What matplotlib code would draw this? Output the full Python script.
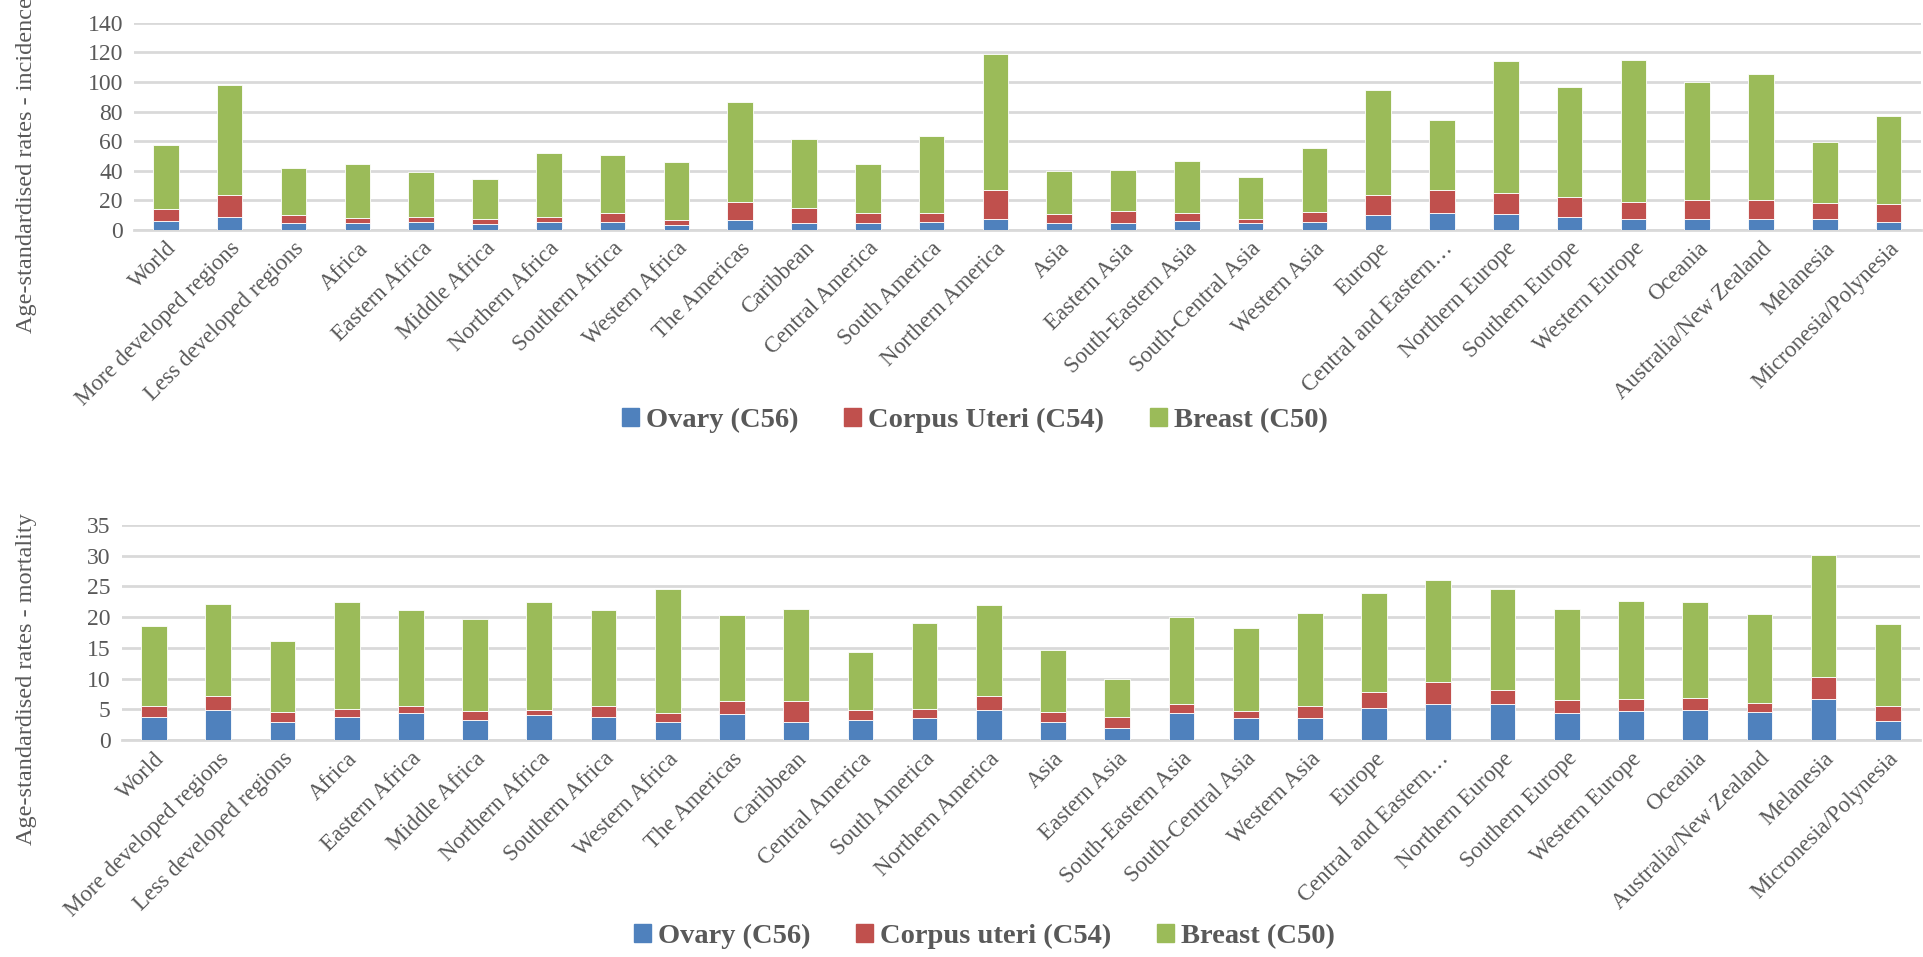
import numpy as np
import matplotlib
matplotlib.use('Agg')
import matplotlib.pyplot as plt
from matplotlib.patches import Patch

# Regions shown on both panels
regions = ['World', 'More developed regions', 'Less developed regions', 'Africa',
           'Eastern Africa', 'Middle Africa', 'Northern Africa', 'Southern Africa',
           'Western Africa', 'The Americas', 'Caribbean', 'Central America',
           'South America', 'Northern America', 'Asia', 'Eastern Asia',
           'South-Eastern Asia', 'South-Central Asia', 'Western Asia', 'Europe',
           'Central and Eastern\u2026', 'Northern Europe', 'Southern Europe',
           'Western Europe', 'Oceania', 'Australia/New Zealand', 'Melanesia',
           'Micronesia/Polynesia']

# Incidence (age-standardised rates)
ovary_inc = [5.9, 8.9, 4.5, 4.5, 5.0, 3.6, 5.5, 5.0, 3.2, 6.4, 4.5, 4.5, 5.5, 7.5,
             4.5, 4.5, 6.1, 4.5, 5.0, 10.0, 11.4, 10.5, 8.6, 7.3, 7.5, 7.3, 7.5, 5.0]
corpus_inc = [8.0, 14.7, 5.7, 3.2, 3.4, 3.4, 2.9, 6.4, 3.4, 12.2, 10.3, 6.6, 5.6, 19.5,
              6.2, 8.0, 5.0, 2.5, 7.3, 13.6, 15.4, 14.3, 13.4, 11.3, 12.5, 12.5, 10.5, 12.3]
breast_inc = [43.6, 74.2, 31.6, 36.8, 30.7, 27.4, 43.7, 39.4, 39.0, 67.9, 46.8, 33.4, 52.3, 91.7,
              29.3, 27.9, 35.4, 28.7, 43.2, 71.2, 47.8, 89.6, 74.6, 96.5, 79.8, 85.8, 41.3, 60.0]

# Mortality (age-standardised rates)
ovary_mort = [3.8, 4.9, 3.0, 3.8, 4.4, 3.3, 4.1, 3.8, 3.0, 4.3, 3.0, 3.3, 3.6, 4.9,
              3.0, 2.0, 4.4, 3.6, 3.6, 5.2, 5.9, 5.8, 4.4, 4.7, 4.8, 4.5, 6.6, 3.1]
corpus_mort = [1.7, 2.3, 1.5, 1.2, 1.2, 1.4, 0.8, 1.7, 1.4, 2.0, 3.3, 1.6, 1.4, 2.3,
               1.5, 1.8, 1.4, 1.1, 1.9, 2.6, 3.5, 2.3, 2.1, 1.9, 2.0, 1.5, 3.6, 2.5]
breast_mort = [13.0, 15.0, 11.6, 17.4, 15.6, 15.0, 17.5, 15.6, 20.1, 14.0, 15.1, 9.5, 14.1, 14.8,
               10.1, 6.2, 14.2, 13.5, 15.2, 16.2, 16.6, 16.4, 14.9, 16.1, 15.6, 14.5, 19.9, 13.3]

blue, red, green = '#4F81BD', '#C0504D', '#9BBB59'
grey = '#595959'
serif = ['Liberation Serif', 'DejaVu Serif']

fig = plt.figure(figsize=(19.23, 9.57), dpi=100)


def stacked(ax, ov, cu, br, ymax, step):
    x = np.arange(len(regions))
    ov, cu, br = np.array(ov), np.array(cu), np.array(br)
    kw = dict(width=0.4, edgecolor='white', linewidth=0.6, zorder=3)
    ax.bar(x, ov, color=blue, **kw)
    ax.bar(x, cu, bottom=ov, color=red, **kw)
    ax.bar(x, br, bottom=ov + cu, color=green, **kw)
    ax.set_xlim(-0.5, len(regions) - 0.5)
    ax.set_ylim(0, ymax)
    ax.set_yticks(np.arange(0, ymax + 1, step))
    ax.yaxis.grid(True, color='#D9D9D9', linewidth=2)
    ax.set_axisbelow(True)
    for s in ['top', 'right', 'left']:
        ax.spines[s].set_visible(False)
    ax.spines['bottom'].set_color('#D9D9D9')
    ax.spines['bottom'].set_linewidth(2)
    ax.tick_params(axis='y', length=0, colors=grey, labelsize=17, pad=8)
    ax.tick_params(axis='x', length=0, colors=grey, pad=6)
    ax.set_xticks(x)
    ax.set_xticklabels(regions, rotation=45, ha='right', rotation_mode='anchor',
                       family=serif, fontsize=16.5, color=grey)
    for lab in ax.get_yticklabels():
        lab.set_family(serif)


# Top: incidence
ax1 = fig.add_axes([0.0697, 0.760, 0.929, 0.216])
stacked(ax1, ovary_inc, corpus_inc, breast_inc, 140, 20)
fig.text(0.014, 0.828, 'Age-standardised rates - incidence', rotation=90,
         ha='center', va='center', family=serif, fontsize=17.5, color=grey)

# Bottom: mortality
ax2 = fig.add_axes([0.0634, 0.2268, 0.935, 0.2246])
stacked(ax2, ovary_mort, corpus_mort, breast_mort, 35, 5)
fig.text(0.014, 0.29, 'Age-standardised rates - mortality', rotation=90,
         ha='center', va='center', family=serif, fontsize=17.5, color=grey)

legend_font = dict(family=serif, weight='bold', size=20.5)
h1 = [Patch(color=blue, label='Ovary (C56)'), Patch(color=red, label='Corpus Uteri (C54)'),
      Patch(color=green, label='Breast (C50)')]
h2 = [Patch(color=blue, label='Ovary (C56)'), Patch(color=red, label='Corpus uteri (C54)'),
      Patch(color=green, label='Breast (C50)')]
for handles, yy, xx in [(h1, 0.561, 0.507), (h2, 0.021, 0.512)]:
    leg = fig.legend(handles=handles, loc='center', bbox_to_anchor=(xx, yy), ncol=3,
                     frameon=False, prop=legend_font, handlelength=0.6, handleheight=0.6,
                     handletextpad=0.25, columnspacing=1.6)
    for t in leg.get_texts():
        t.set_color(grey)

fig.savefig('out.png', dpi=100)
